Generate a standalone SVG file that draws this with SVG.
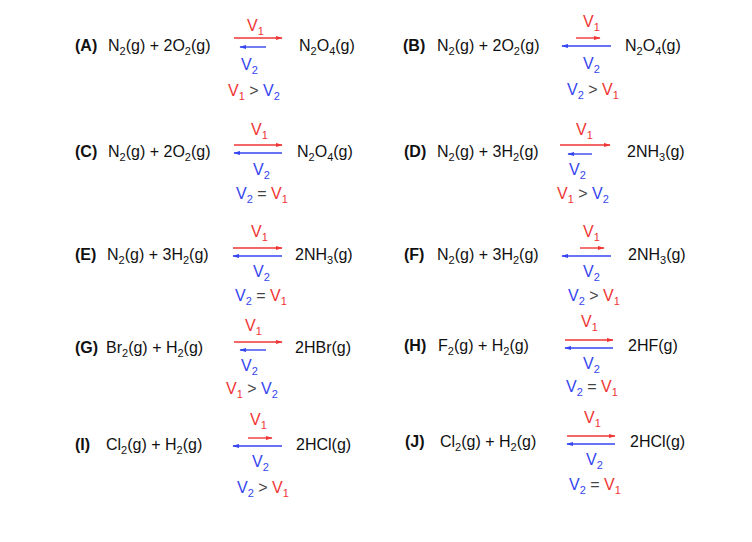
<svg xmlns="http://www.w3.org/2000/svg" width="752" height="542" viewBox="0 0 752 542">
<style>
text{font-family:"Liberation Sans",Arial,sans-serif;font-size:16px;fill:#111}
.lb{font-weight:bold}
.r{fill:#f03535}.b{fill:#3545f0}.g{fill:#444}
.s{font-size:11px}
.ar{stroke:#f03535;stroke-width:1.4;fill:none;marker-end:url(#mr)}
.ab{stroke:#3545f0;stroke-width:1.4;fill:none;marker-end:url(#mb)}
</style>
<defs>
<marker id="mr" viewBox="0 0 10 6" refX="9" refY="3" markerWidth="7" markerHeight="4.2" markerUnits="userSpaceOnUse" orient="auto"><path d="M0,0L10,3L0,6z" fill="#f03535"/></marker>
<marker id="mb" viewBox="0 0 10 6" refX="9" refY="3" markerWidth="7" markerHeight="4.2" markerUnits="userSpaceOnUse" orient="auto"><path d="M0,0L10,3L0,6z" fill="#3545f0"/></marker>
</defs>
<g id="connectors">
<line class="ar" x1="234" y1="38" x2="282" y2="38"/><line class="ab" x1="266" y1="47" x2="240" y2="47"/>
<line class="ar" x1="576" y1="38" x2="600" y2="38"/><line class="ab" x1="611" y1="46" x2="562" y2="46"/>
<line class="ar" x1="234" y1="145" x2="282" y2="145"/><line class="ab" x1="282" y1="153" x2="234" y2="153"/>
<line class="ar" x1="560" y1="145" x2="610" y2="145"/><line class="ab" x1="592" y1="154" x2="568" y2="154"/>
<line class="ar" x1="233" y1="248" x2="282" y2="248"/><line class="ab" x1="282" y1="256" x2="233" y2="256"/>
<line class="ar" x1="580" y1="248" x2="604" y2="248"/><line class="ab" x1="611" y1="256" x2="562" y2="256"/>
<line class="ar" x1="234" y1="342" x2="282" y2="342"/><line class="ab" x1="266" y1="350" x2="240" y2="350"/>
<line class="ar" x1="565" y1="340" x2="613" y2="340"/><line class="ab" x1="613" y1="348" x2="565" y2="348"/>
<line class="ar" x1="248" y1="438" x2="272" y2="438"/><line class="ab" x1="282" y1="446" x2="233" y2="446"/>
<line class="ar" x1="567" y1="436" x2="615" y2="436"/><line class="ab" x1="615" y1="444" x2="567" y2="444"/>
</g>
<g id="A">
<text class="lb" x="75" y="51">(A)</text>
<text x="108" y="51">N<tspan class="s" dy="4">2</tspan><tspan dy="-4">(g) + 2O</tspan><tspan class="s" dy="4">2</tspan><tspan dy="-4">(g)</tspan></text>
<text x="299" y="51">N<tspan class="s" dy="4">2</tspan><tspan dy="-4">O</tspan><tspan class="s" dy="4">4</tspan><tspan dy="-4">(g)</tspan></text>
<text class="r" x="247" y="31">V<tspan class="s r" dy="4">1</tspan></text>
<text class="b" x="241" y="70">V<tspan class="s b" dy="4">2</tspan></text>
<text x="228" y="96"><tspan class="r">V</tspan><tspan class="s r" dy="4">1</tspan><tspan class="g" dy="-4"> &gt; </tspan><tspan class="b">V</tspan><tspan class="s b" dy="4">2</tspan></text>
</g>
<g id="B">
<text class="lb" x="403" y="51">(B)</text>
<text x="437" y="51">N<tspan class="s" dy="4">2</tspan><tspan dy="-4">(g) + 2O</tspan><tspan class="s" dy="4">2</tspan><tspan dy="-4">(g)</tspan></text>
<text x="625" y="51">N<tspan class="s" dy="4">2</tspan><tspan dy="-4">O</tspan><tspan class="s" dy="4">4</tspan><tspan dy="-4">(g)</tspan></text>
<text class="r" x="583" y="27">V<tspan class="s r" dy="4">1</tspan></text>
<text class="b" x="583" y="69">V<tspan class="s b" dy="4">2</tspan></text>
<text x="567" y="95"><tspan class="b">V</tspan><tspan class="s b" dy="4">2</tspan><tspan class="g" dy="-4"> &gt; </tspan><tspan class="r">V</tspan><tspan class="s r" dy="4">1</tspan></text>
</g>
<g id="C">
<text class="lb" x="75" y="157">(C)</text>
<text x="108" y="157">N<tspan class="s" dy="4">2</tspan><tspan dy="-4">(g) + 2O</tspan><tspan class="s" dy="4">2</tspan><tspan dy="-4">(g)</tspan></text>
<text x="297" y="157">N<tspan class="s" dy="4">2</tspan><tspan dy="-4">O</tspan><tspan class="s" dy="4">4</tspan><tspan dy="-4">(g)</tspan></text>
<text class="r" x="251" y="135">V<tspan class="s r" dy="4">1</tspan></text>
<text class="b" x="253" y="175">V<tspan class="s b" dy="4">2</tspan></text>
<text x="236" y="199"><tspan class="b">V</tspan><tspan class="s b" dy="4">2</tspan><tspan class="g" dy="-4"> = </tspan><tspan class="r">V</tspan><tspan class="s r" dy="4">1</tspan></text>
</g>
<g id="D">
<text class="lb" x="404" y="157">(D)</text>
<text x="437" y="157">N<tspan class="s" dy="4">2</tspan><tspan dy="-4">(g) + 3H</tspan><tspan class="s" dy="4">2</tspan><tspan dy="-4">(g)</tspan></text>
<text x="627" y="157">2NH<tspan class="s" dy="4">3</tspan><tspan dy="-4">(g)</tspan></text>
<text class="r" x="576" y="135">V<tspan class="s r" dy="4">1</tspan></text>
<text class="b" x="569" y="175">V<tspan class="s b" dy="4">2</tspan></text>
<text x="557" y="199"><tspan class="r">V</tspan><tspan class="s r" dy="4">1</tspan><tspan class="g" dy="-4"> &gt; </tspan><tspan class="b">V</tspan><tspan class="s b" dy="4">2</tspan></text>
</g>
<g id="E">
<text class="lb" x="75" y="260">(E)</text>
<text x="107" y="260">N<tspan class="s" dy="4">2</tspan><tspan dy="-4">(g) + 3H</tspan><tspan class="s" dy="4">2</tspan><tspan dy="-4">(g)</tspan></text>
<text x="295" y="260">2NH<tspan class="s" dy="4">3</tspan><tspan dy="-4">(g)</tspan></text>
<text class="r" x="251" y="237">V<tspan class="s r" dy="4">1</tspan></text>
<text class="b" x="253" y="277">V<tspan class="s b" dy="4">2</tspan></text>
<text x="235" y="301"><tspan class="b">V</tspan><tspan class="s b" dy="4">2</tspan><tspan class="g" dy="-4"> = </tspan><tspan class="r">V</tspan><tspan class="s r" dy="4">1</tspan></text>
</g>
<g id="F">
<text class="lb" x="404" y="260">(F)</text>
<text x="437" y="260">N<tspan class="s" dy="4">2</tspan><tspan dy="-4">(g) + 3H</tspan><tspan class="s" dy="4">2</tspan><tspan dy="-4">(g)</tspan></text>
<text x="628" y="260">2NH<tspan class="s" dy="4">3</tspan><tspan dy="-4">(g)</tspan></text>
<text class="r" x="583" y="237">V<tspan class="s r" dy="4">1</tspan></text>
<text class="b" x="583" y="277">V<tspan class="s b" dy="4">2</tspan></text>
<text x="568" y="301"><tspan class="b">V</tspan><tspan class="s b" dy="4">2</tspan><tspan class="g" dy="-4"> &gt; </tspan><tspan class="r">V</tspan><tspan class="s r" dy="4">1</tspan></text>
</g>
<g id="G">
<text class="lb" x="75" y="353">(G)</text>
<text x="106" y="353">Br<tspan class="s" dy="4">2</tspan><tspan dy="-4">(g) + H</tspan><tspan class="s" dy="4">2</tspan><tspan dy="-4">(g)</tspan></text>
<text x="295" y="353">2HBr(g)</text>
<text class="r" x="245" y="331">V<tspan class="s r" dy="4">1</tspan></text>
<text class="b" x="241" y="371">V<tspan class="s b" dy="4">2</tspan></text>
<text x="226" y="394"><tspan class="r">V</tspan><tspan class="s r" dy="4">1</tspan><tspan class="g" dy="-4"> &gt; </tspan><tspan class="b">V</tspan><tspan class="s b" dy="4">2</tspan></text>
</g>
<g id="H">
<text class="lb" x="404" y="351">(H)</text>
<text x="438" y="351">F<tspan class="s" dy="4">2</tspan><tspan dy="-4">(g) + H</tspan><tspan class="s" dy="4">2</tspan><tspan dy="-4">(g)</tspan></text>
<text x="628" y="351">2HF(g)</text>
<text class="r" x="581" y="327">V<tspan class="s r" dy="4">1</tspan></text>
<text class="b" x="583" y="369">V<tspan class="s b" dy="4">2</tspan></text>
<text x="566" y="392"><tspan class="b">V</tspan><tspan class="s b" dy="4">2</tspan><tspan class="g" dy="-4"> = </tspan><tspan class="r">V</tspan><tspan class="s r" dy="4">1</tspan></text>
</g>
<g id="I">
<text class="lb" x="75" y="450">(I)</text>
<text x="106" y="450">Cl<tspan class="s" dy="4">2</tspan><tspan dy="-4">(g) + H</tspan><tspan class="s" dy="4">2</tspan><tspan dy="-4">(g)</tspan></text>
<text x="296" y="450">2HCl(g)</text>
<text class="r" x="250" y="425">V<tspan class="s r" dy="4">1</tspan></text>
<text class="b" x="252" y="467">V<tspan class="s b" dy="4">2</tspan></text>
<text x="237" y="493"><tspan class="b">V</tspan><tspan class="s b" dy="4">2</tspan><tspan class="g" dy="-4"> &gt; </tspan><tspan class="r">V</tspan><tspan class="s r" dy="4">1</tspan></text>
</g>
<g id="J">
<text class="lb" x="405" y="447">(J)</text>
<text x="440" y="447">Cl<tspan class="s" dy="4">2</tspan><tspan dy="-4">(g) + H</tspan><tspan class="s" dy="4">2</tspan><tspan dy="-4">(g)</tspan></text>
<text x="630" y="447">2HCl(g)</text>
<text class="r" x="584" y="423">V<tspan class="s r" dy="4">1</tspan></text>
<text class="b" x="586" y="465">V<tspan class="s b" dy="4">2</tspan></text>
<text x="569" y="490"><tspan class="b">V</tspan><tspan class="s b" dy="4">2</tspan><tspan class="g" dy="-4"> = </tspan><tspan class="r">V</tspan><tspan class="s r" dy="4">1</tspan></text>
</g>
</svg>
